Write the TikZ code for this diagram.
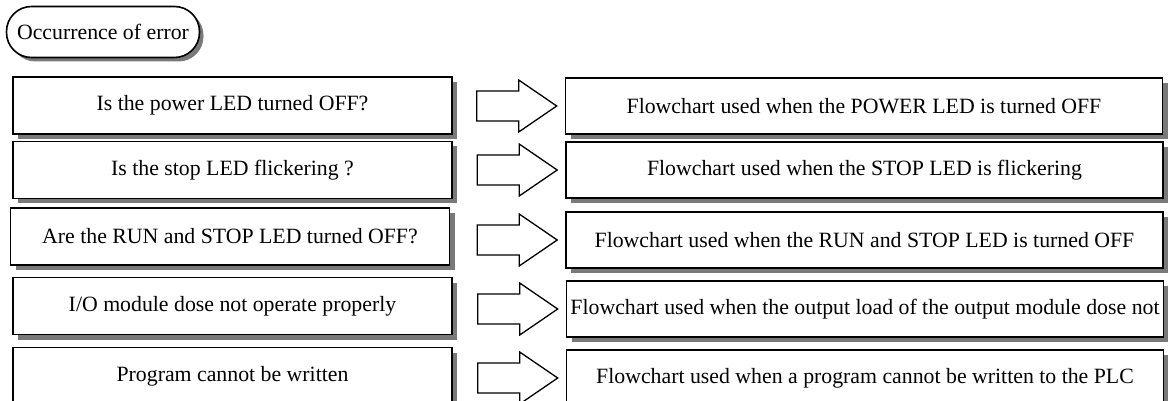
\documentclass[tikz,border=0pt]{standalone}
\usepackage{fontspec}
\setmainfont{Liberation Serif}
\usetikzlibrary{shadows, calc}

\begin{document}
\begin{tikzpicture}[x=1pt, y=-1pt,
  boxshadow/.style={drop shadow={shadow xshift=5pt, shadow yshift=-5pt,
                    fill=gray!95!black, opacity=1}},
  startbox/.style={rectangle, draw=black, line width=1.6pt, fill=white,
                   rounded corners=25pt, minimum width=193pt, minimum height=51pt,
                   inner sep=0pt, font=\fontsize{21.8}{26}\selectfont,
                   drop shadow={shadow xshift=4pt, shadow yshift=-4pt,
                   fill=gray!95!black, opacity=1}},
  query/.style={rectangle, draw=black, line width=1.6pt, fill=white,
                minimum width=439pt, minimum height=57pt, inner sep=0pt,
                font=\fontsize{21.8}{26}\selectfont, boxshadow},
  chart/.style={rectangle, draw=black, line width=1.6pt, fill=white,
                minimum width=597pt, minimum height=56pt, inner sep=0pt,
                font=\fontsize{21.8}{26}\selectfont, boxshadow},
  blockarrow/.style={draw=black, line width=1.3pt, fill=white, line join=miter}
]
\useasboundingbox (0,0) rectangle (1168,401);
\clip (0,0) rectangle (1168,401);

% Start
\node[startbox] (start) at (103,32) {Occurrence of error};

% Questions
\node[query] (q1) at (232.5,105.5) {Is the power LED turned OFF?};
\node[query] (q2) at (232.5,170)   {Is the stop LED flickering ?};
\node[query] (q3) at (230,236.5)   {Are the RUN and STOP LED turned OFF?};
\node[query] (q4) at (232.5,306)   {I/O module dose not operate properly};
\node[query] (q5) at (232.5,376)   {Program cannot be written};

% Flowcharts
\node[chart] (f1) at (864,106) {Flowchart used when the POWER LED is turned OFF};
\node[chart] (f2) at (864.5,170) {Flowchart used when the STOP LED is flickering};
\node[chart] (f3) at (864.5,240) {Flowchart used when the RUN and STOP LED is turned OFF};
\node[chart] (f4) at (865,309) {Flowchart used when the output load of the output module dose not};
\node[chart] (f5) at (865,378) {Flowchart used when a program cannot be written to the PLC};

% Block arrows
\foreach \i in {1,...,5}
  \draw[blockarrow] ($(f\i.west)+(-88,-15)$) -- ++(42,0) -- ++(0,-11)
    -- ++(38,26) -- ++(-38,26) -- ++(0,-11) -- ++(-42,0) -- cycle;

\end{tikzpicture}
\end{document}
